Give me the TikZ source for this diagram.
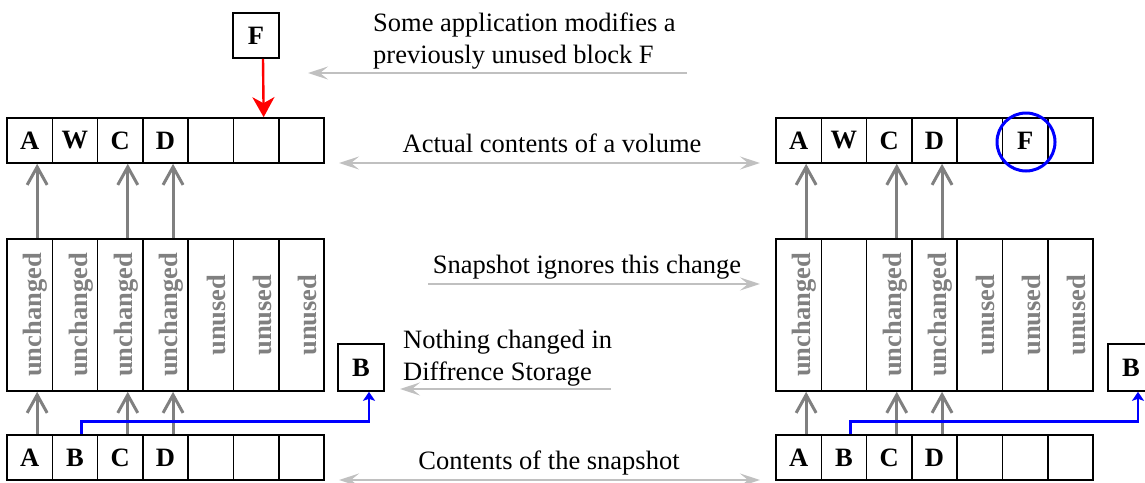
\documentclass[tikz,border=0pt]{standalone}
\usepackage{fontspec}
\setmainfont{Liberation Serif}
\usetikzlibrary{arrows.meta}
\definecolor{midgray}{RGB}{128,128,128}
\definecolor{lightgray}{RGB}{192,192,192}
\begin{document}
\begin{tikzpicture}[x=1pt,y=-1pt,
  cell/.style={draw,line width=1.6pt,minimum width=45.3pt,minimum height=45pt,inner sep=0pt,
    font=\fontsize{26.5}{30}\selectfont\bfseries},
  tallcell/.style={cell,minimum height=152pt},
  vtext/.style={rotate=90,text=midgray,inner sep=0pt,font=\fontsize{26.5}{30}\selectfont\bfseries},
  lbl/.style={inner sep=0pt,font=\fontsize{26.5}{32}\selectfont},
  garrow/.style={draw=midgray,line width=3pt,-{Straight Barb[length=18pt,width=20pt,line width=3pt]}},
  barrow/.style={draw=blue,line width=2.6pt,-{Stealth[length=9pt,width=12pt,inset=2pt]}},
  rarrow/.style={draw=red,line width=2.4pt,-{Stealth[length=20pt,width=22pt,inset=6pt]}},
  larrow/.style={draw=lightgray,line width=2pt,-{Stealth[length=20pt,width=13pt,inset=8pt]}},
  ldarrow/.style={draw=lightgray,line width=2pt,{Stealth[length=20pt,width=13pt,inset=8pt]}-{Stealth[length=20pt,width=13pt,inset=8pt]}}
]
\useasboundingbox (0,0) rectangle (1145,482);

% ---------- left group ----------
\foreach \i/\t in {1/A,2/W,3/C,4/D,5/,6/,7/} {
  \node[cell] (Lt\i) at ({7+45.3*(\i-0.5)},140.5) {\t};
  \node[tallcell] (Lm\i) at ({7+45.3*(\i-0.5)},315) {};
}
\foreach \i/\t in {1/A,2/B,3/C,4/D,5/,6/,7/} {
  \node[cell] (Lb\i) at ({7+45.3*(\i-0.5)},457.5) {\t};
}
\foreach \i/\t in {1/unchanged,2/unchanged,3/unchanged,4/unchanged,5/unused,6/unused,7/unused} {
  \node[vtext] (Lv\i) at ([xshift=6pt]Lm\i.center) {\t};
}
\node[cell,minimum width=46pt,minimum height=45pt] (LF) at (256,35.5) {F};
\node[cell,minimum width=46pt,minimum height=47pt] (LB) at (361,367.5) {B};

\foreach \i in {1,3,4} {
  \draw[garrow] ([xshift=7.5pt]Lb\i.north) -- ([xshift=7.5pt]Lm\i.south);
  \draw[garrow] ([xshift=7.5pt]Lm\i.north) -- ([xshift=7.5pt]Lt\i.south);
}
\draw[barrow] ([xshift=6.5pt]Lb2.north) -- ++(0,-13) -| ([xshift=8pt]LB.south);
\draw[rarrow] ([xshift=7pt]LF.south) -- ([xshift=7.5pt]Lt6.north);

% ---------- right group ----------
\foreach \i/\t in {1/A,2/W,3/C,4/D,5/,6/F,7/} {
  \node[cell] (Rt\i) at ({776+45.3*(\i-0.5)},140.5) {\t};
  \node[tallcell] (Rm\i) at ({776+45.3*(\i-0.5)},315) {};
}
\foreach \i/\t in {1/A,2/B,3/C,4/D,5/,6/,7/} {
  \node[cell] (Rb\i) at ({776+45.3*(\i-0.5)},457.5) {\t};
}
\foreach \i/\t in {1/unchanged,3/unchanged,4/unchanged,5/unused,6/unused,7/unused} {
  \node[vtext] (Rv\i) at ([xshift=6pt]Rm\i.center) {\t};
}
\node[cell,minimum width=46pt,minimum height=47pt] (RB) at (1131,367.5) {B};
\node[circle,draw=blue,line width=3pt,minimum size=58pt,inner sep=0pt] (circ) at (1026,142) {};

\foreach \i in {1,3,4} {
  \draw[garrow] ([xshift=7.5pt]Rb\i.north) -- ([xshift=7.5pt]Rm\i.south);
  \draw[garrow] ([xshift=7.5pt]Rm\i.north) -- ([xshift=7.5pt]Rt\i.south);
}
\draw[barrow] ([xshift=6.5pt]Rb2.north) -- ++(0,-13) -| ([xshift=7pt]RB.south);

% ---------- labels ----------
\node[lbl,anchor=north west,align=left] (t1) at (373,13) {Some application modifies a\\previously unused block F};
\coordinate (a1s) at (687,73); \coordinate (a1e) at (308,73);
\draw[larrow] (a1s) -- (a1e);

\node[lbl,anchor=base] (t2) at (552,152) {Actual contents of a volume};
\coordinate (a2s) at (339,163); \coordinate (a2e) at (760,163);
\draw[ldarrow] (a2s) -- (a2e);

\node[lbl,anchor=base] (t3) at (587,273) {Snapshot ignores this change};
\coordinate (a3s) at (428,284); \coordinate (a3e) at (760,284);
\draw[larrow] (a3s) -- (a3e);

\node[lbl,anchor=north west,align=left] (t4) at (403,330) {Nothing changed in\\Diffrence Storage};
\coordinate (a4s) at (611,389); \coordinate (a4e) at (400,389);
\draw[larrow] (a4s) -- (a4e);

\node[lbl,anchor=base] (t5) at (549,469) {Contents of the snapshot};
\coordinate (a5s) at (339,480); \coordinate (a5e) at (760,480);
\draw[ldarrow] (a5s) -- (a5e);
\end{tikzpicture}
\end{document}
